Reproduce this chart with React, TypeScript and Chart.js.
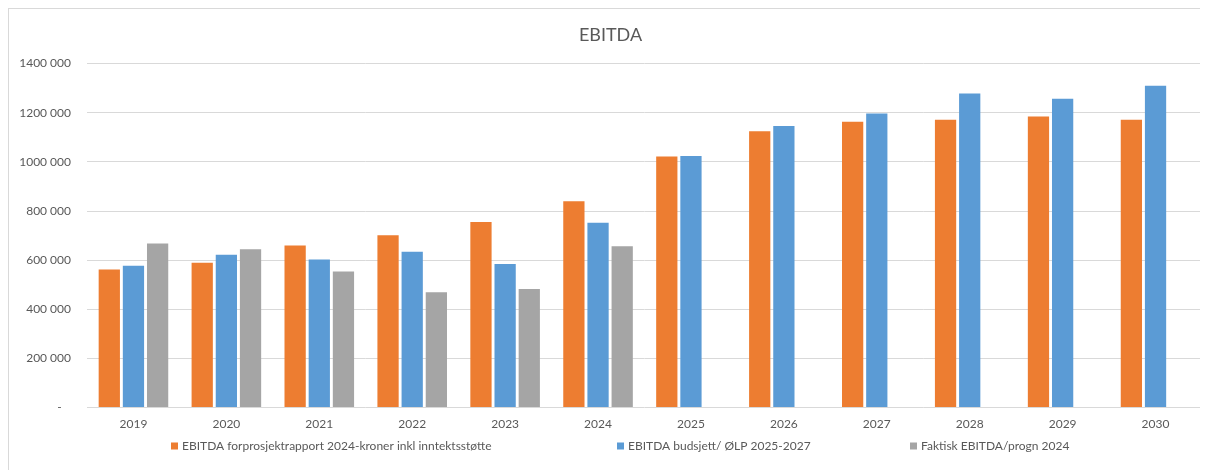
import React, { useEffect, useRef } from 'react';
import { Chart, registerables } from 'chart.js';

Chart.register(...registerables);

const years = ['2019', '2020', '2021', '2022', '2023', '2024', '2025', '2026', '2027', '2028', '2029', '2030'];
const forprosjekt = [562000, 590000, 660000, 701000, 755000, 840000, 1022000, 1125000, 1163000, 1171000, 1185000, 1171000];
const budsjett = [577000, 622000, 603000, 634000, 584000, 752000, 1024000, 1146000, 1197000, 1278000, 1257000, 1310000];
const faktisk = [668000, 644000, 554000, 469000, 483000, 657000, null, null, null, null, null, null];
const seriesLabels = [
  'EBITDA forprosjektrapport 2024-kroner inkl inntektsstøtte',
  'EBITDA budsjett/ ØLP 2025-2027',
  'Faktisk EBITDA/progn 2024',
];
const seriesColors = ['#ED7D31', '#5B9BD5', '#A5A5A5'];
const yTickValues = [0, 200000, 400000, 600000, 800000, 1000000, 1200000, 1400000];
const yTickLabels = ['-   ', '200 000', '400 000', '600 000', '800 000', '1000 000', '1200 000', '1400 000'];
const titleText = 'EBITDA';

const FONT = 'Lato';
const TEXT = '#595959';

const legendPlugin = {
  id: 'excelLegend',
  afterDraw(chart: any) {
    const ctx = chart.ctx;
    ctx.save();
    ctx.font = `12px ${FONT}`;
    ctx.textBaseline = 'middle';
    ctx.textAlign = 'left';
    const y = 437;
    const starts = [162, 608, 901];
    chart.data.datasets.forEach((ds: any, i: number) => {
      ctx.fillStyle = ds.backgroundColor;
      ctx.fillRect(starts[i], y - 3.5, 7, 7);
      ctx.fillStyle = TEXT;
      ctx.fillText(ds.label, starts[i] + 11, y);
    });
    ctx.restore();
  },
};

export default function App() {
  const ref = useRef<HTMLCanvasElement | null>(null);

  useEffect(() => {
    if (!ref.current) return;
    Chart.defaults.font.family = FONT;
    Chart.defaults.color = TEXT;
    const seriesData = [forprosjekt, budsjett, faktisk];
    const chart = new Chart(ref.current, {
      type: 'bar',
      data: {
        labels: years,
        datasets: seriesData.map((d, i) => ({
          label: seriesLabels[i],
          data: d,
          backgroundColor: seriesColors[i],
          categoryPercentage: 0.78,
          barPercentage: 0.88,
        })),
      },
      options: {
        animation: false,
        responsive: true,
        maintainAspectRatio: false,
        layout: { padding: { left: 10, right: 6, top: 0, bottom: 30 } },
        plugins: {
          legend: { display: false },
          tooltip: { enabled: false },
          title: {
            display: true,
            text: titleText,
            color: TEXT,
            font: { family: FONT, size: 18, weight: 'normal' },
            padding: { top: 15, bottom: 18 },
          },
        },
        scales: {
          x: {
            grid: { display: false, drawTicks: false },
            border: { display: false },
            ticks: { color: TEXT, font: { size: 12 }, padding: 9 },
          },
          y: {
            min: 0,
            max: 1400000,
            afterFit: (scale: any) => {
              scale.width = 68;
            },
            afterBuildTicks: (scale: any) => {
              scale.ticks = yTickValues.map((v) => ({ value: v }));
            },
            grid: { color: '#D9D9D9', lineWidth: 1, drawTicks: false },
            border: { display: false },
            ticks: {
              color: TEXT,
              font: { size: 12 },
              padding: 16,
              callback: (v: any) => {
                const idx = yTickValues.indexOf(Number(v));
                return idx >= 0 ? yTickLabels[idx] : '';
              },
            },
          },
        },
      },
      plugins: [legendPlugin],
    });
    return () => chart.destroy();
  }, []);

  return (
    <div
      style={{
        position: 'relative',
        width: 1200,
        height: 462,
        boxSizing: 'border-box',
        borderLeft: '1px solid #D9D9D9',
        borderTop: '1px solid #D9D9D9',
        background: '#fff',
      }}
    >
      <canvas ref={ref} />
    </div>
  );
}
